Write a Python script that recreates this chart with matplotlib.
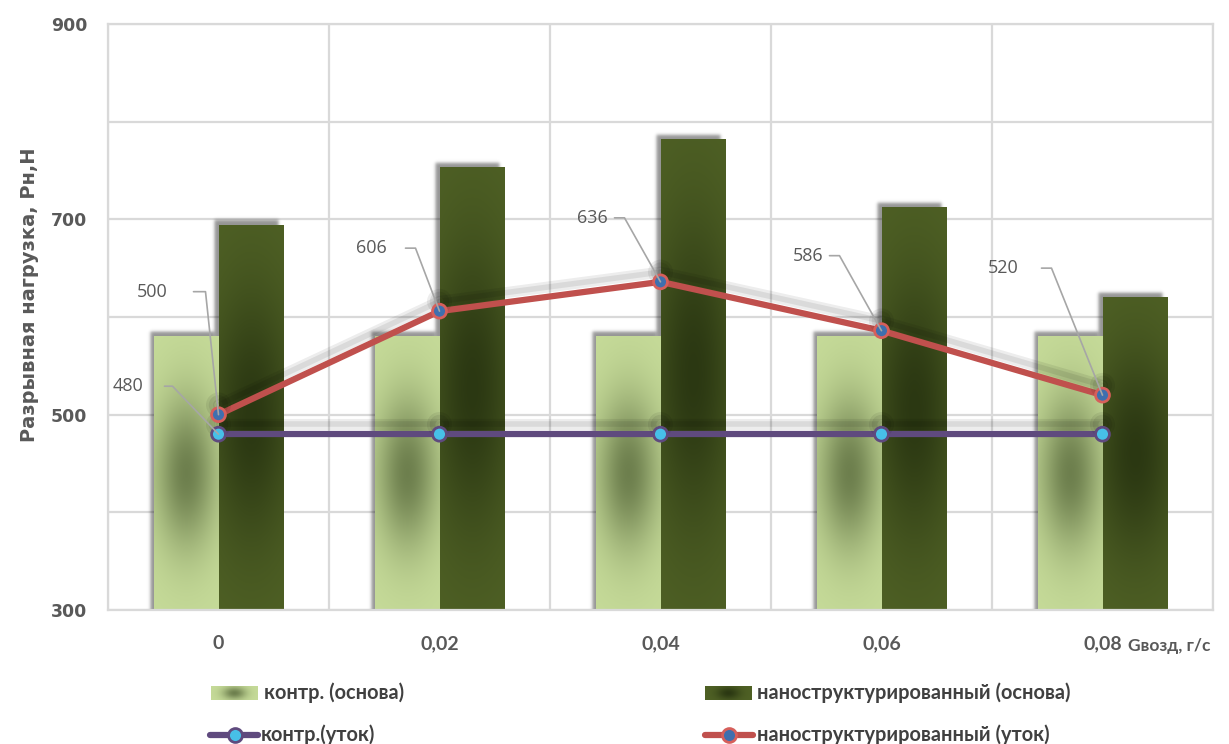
import numpy as np
import matplotlib
matplotlib.use("Agg")
import matplotlib.pyplot as plt
from matplotlib import patheffects as pe
from matplotlib.lines import Line2D

# ---------------- data ----------------
categories = ["0", "0,02", "0,04", "0,06", "0,08"]
control_warp = [580, 580, 580, 580, 580]
nano_warp = [694, 753, 782, 712, 620]
control_weft = [480, 480, 480, 480, 480]
nano_weft = [500, 606, 636, 586, 520]

series_names = ["контр. (основа)", "наноструктурированный (основа)",
                "контр.(уток)", "наноструктурированный (уток)"]
y_title = "Разрывная нагрузка, Рн,Н"
x_title = "Gвозд, г/с"
y_labeled = [300, 500, 700, 900]
y_unlabeled = [400, 600, 800]

# ---------------- style ----------------
W, H = 1229, 744
GRID = "#d9d9d9"
TXT = "#595959"
LEADER = "#a6a6a6"
LIGHT_EDGE = np.array([0.776, 0.859, 0.600])
LIGHT_MID = np.array([0.430, 0.500, 0.305])
DARK_EDGE = np.array([0.310, 0.380, 0.145])
DARK_MID = np.array([0.170, 0.220, 0.072])
PURPLE = "#5f4a7e"
RED = "#c0504d"
COND = ["Lato", "DejaVu Sans"]
LABEL_FONT = ["Open Sans", "DejaVu Sans"]

fig = plt.figure(figsize=(W / 100, H / 100), dpi=100)
ax = fig.add_axes([108 / W, (H - 610) / H, 1105 / W, 586 / H])
ax.set_xlim(-0.5, len(categories) - 0.5)
ax.set_ylim(300, 900)
fig.canvas.draw()
bb = ax.get_window_extent()
px_x = (len(categories)) / bb.width   # data units per pixel
px_y = 600 / bb.height

x = np.arange(len(categories))
bar_w = 0.29


def shaded(x0, x1, y0, y1, edge, mid, su, sv, z, target=None):
    target = target or ax
    u = np.linspace(-1, 1, 60)
    v = np.linspace(-1, 1, 240)
    U, V = np.meshgrid(u, v)
    t = np.exp(-(U / su) ** 2 - (V / sv) ** 2)[..., None]
    img = edge * (1 - t) + mid * t
    target.imshow(img, extent=(x0, x1, y0, y1), origin="lower", aspect="auto",
                  interpolation="bilinear", zorder=z)


def soft_shadow(x0, x1, y0, y1, z):
    dx, dy, b = 4 * px_x, 5 * px_y, 1.8
    sx0, sx1 = x0 - dx, x1 - dx
    sy0, sy1 = y0 - 30 * px_y, y1 + dy
    ex0, ex1 = sx0 - 4 * b * px_x, sx1 + 4 * b * px_x
    ey0, ey1 = sy0, sy1 + 4 * b * px_y
    xs = np.linspace(ex0, ex1, 120)
    ys = np.linspace(ey0, ey1, 400)
    bx = 0.5 * (np.tanh((xs - sx0) / (b * px_x)) - np.tanh((xs - sx1) / (b * px_x)))
    by = 0.5 * (np.tanh((ys - sy0) / (b * px_y)) - np.tanh((ys - sy1) / (b * px_y)))
    a = np.outer(by, bx) * 0.42
    img = np.zeros(a.shape + (4,))
    img[..., 3] = a
    ax.imshow(img, extent=(ex0, ex1, ey0, ey1), origin="lower", aspect="auto",
              interpolation="bilinear", zorder=z)


# bars
light = ax.bar(x - bar_w / 2, control_warp, bar_w, bottom=0, color="none", zorder=2)
dark = ax.bar(x + bar_w / 2, nano_warp, bar_w, bottom=0, color="none", zorder=2)
for rect in list(light) + list(dark):
    x0, w, top = rect.get_x(), rect.get_width(), rect.get_height()
    soft_shadow(x0, x0 + w, 300, top, 1.5)
for rect in light:
    x0, w, top = rect.get_x(), rect.get_width(), rect.get_height()
    shaded(x0, x0 + w, 300, top, LIGHT_EDGE, LIGHT_MID, 0.95, 0.55, 2)
for rect in dark:
    x0, w, top = rect.get_x(), rect.get_width(), rect.get_height()
    shaded(x0, x0 + w, 300, top, DARK_EDGE, DARK_MID, 1.3, 0.65, 2.1)

# lines
line_shadow = [pe.SimpleLineShadow(offset=(0, 7), shadow_color="k", alpha=0.07, linewidth=8),
               pe.SimpleLineShadow(offset=(0, 7), shadow_color="k", alpha=0.08, linewidth=4),
               pe.Normal()]
ax.plot(x, control_weft, color=PURPLE, lw=4.5, marker="o", ms=10, mfc="#47c0e8",
        mec=PURPLE, mew=2, zorder=4, solid_capstyle="round", path_effects=line_shadow)
ax.plot(x, nano_weft, color=RED, lw=4.5, marker="o", ms=10, mfc="#3f6fae",
        mec="#d65f5b", mew=2, zorder=5, solid_capstyle="round", path_effects=line_shadow)

ax.set_xlim(-0.5, len(categories) - 0.5)
ax.set_ylim(300, 900)

# data labels with leader lines: (text right dx, dy, leader start dx, elbow dx) in pixels
nano_label_pos = [(-51, 123, -25, -13), (-53, 63, -34, -24), (-53, 64, -46, -36),
                  (-58, 75, -52, -42), (-84, 127, -61, -51)]
control_label_pos = [(-75, 48, -54, -46)]


def value_label(xi, val, pos):
    tdx, dy, sdx, edx = pos
    ang = np.degrees(np.arctan2(dy, edx))
    ax.annotate("", xy=(xi, val), xytext=(sdx, dy), textcoords="offset pixels",
                arrowprops=dict(arrowstyle="-", color=LEADER, lw=1.2, shrinkA=0, shrinkB=0,
                                connectionstyle=f"angle,angleA=0,angleB={ang},rad=0"),
                zorder=6)
    ax.annotate(f"{val}", xy=(xi, val), xytext=(tdx, dy), textcoords="offset pixels",
                ha="right", va="center", fontsize=13, color=TXT, family=LABEL_FONT, zorder=6)


for xi, val, pos in zip(x, nano_weft, nano_label_pos):
    value_label(xi, val, pos)
for xi, val, pos in zip(x, control_weft, control_label_pos):
    value_label(xi, val, pos)

# axes styling
ax.set_xticks(x)
ax.set_xticklabels(categories, fontsize=14, fontweight="bold", color=TXT, family=COND)
ax.set_xticks(np.arange(-0.5, len(categories), 1), minor=True)
ax.set_yticks(y_labeled)
ax.set_yticklabels([str(v) for v in y_labeled], fontsize=12.5, fontweight="bold", color=TXT)
ax.set_yticks(y_unlabeled, minor=True)
ax.tick_params(which="both", length=0)
ax.tick_params(axis="x", pad=18)
ax.tick_params(axis="y", pad=15)
ax.grid(which="minor", axis="x", color=GRID, lw=1.6, zorder=0)
ax.grid(which="both", axis="y", color=GRID, lw=1.6, zorder=0)
ax.set_axisbelow(True)
for s in ax.spines.values():
    s.set_color(GRID)
    s.set_linewidth(1.6)

fig.text(30 / W, 1 - 295 / H, y_title, rotation=90, ha="center", va="center",
         fontsize=14, fontweight="bold", color=TXT)
fig.text(1128 / W, 1 - 646 / H, x_title, ha="left", va="center",
         fontsize=12.5, fontweight="bold", color=TXT, family=COND)

# legend drawn in figure pixel space
lg = fig.add_axes([0, 0, 1, 1], facecolor="none")
lg.set_xlim(0, W)
lg.set_ylim(H, 0)
lg.axis("off")
shaded(211, 258, 700, 686, LIGHT_EDGE, LIGHT_MID, 0.5, 0.9, 2, target=lg)
shaded(705, 752, 700, 686, DARK_EDGE, DARK_MID, 0.5, 0.9, 2, target=lg)
lg.add_line(Line2D([210, 258], [735, 735], color=PURPLE, lw=4.5, solid_capstyle="round"))
lg.plot([235], [735], marker="o", ms=10, mfc="#47c0e8", mec=PURPLE, mew=2)
lg.add_line(Line2D([705, 753], [735, 735], color=RED, lw=4.5, solid_capstyle="round"))
lg.plot([729], [735], marker="o", ms=10, mfc="#3f6fae", mec="#d65f5b", mew=2)
lg.set_xlim(0, W)
lg.set_ylim(H, 0)
leg_text = dict(fontsize=14.4, fontweight="bold", color="#404040", family=COND, va="center")
lg.text(264, 693, series_names[0], **leg_text)
lg.text(757, 693, series_names[1], **leg_text)
lg.text(261, 735, series_names[2], **leg_text)
lg.text(757, 735, series_names[3], **leg_text)

fig.savefig("out.png", dpi=100)
